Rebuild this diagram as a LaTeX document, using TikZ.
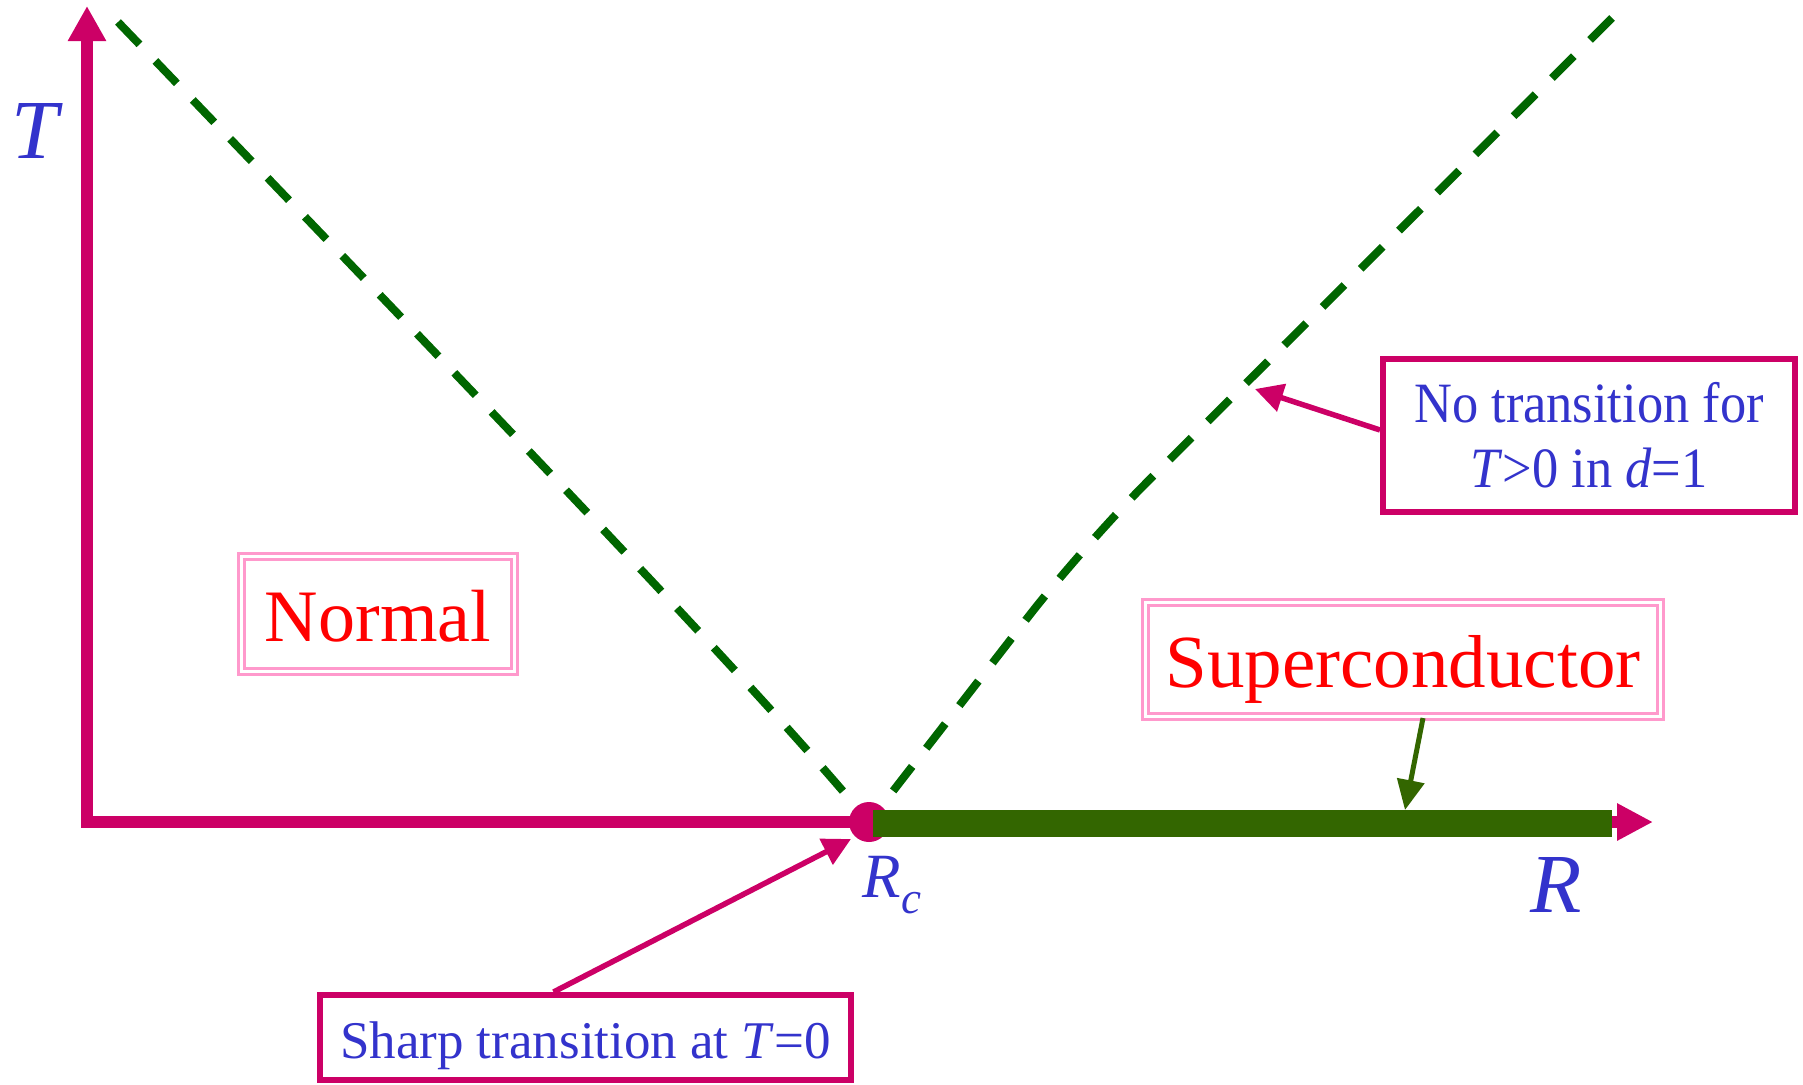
\documentclass[tikz,border=0pt]{standalone}
\usepackage{fontspec}
\setmainfont{Liberation Serif}
\newfontfamily\condserif[FakeStretch=0.92]{Liberation Serif}
\usetikzlibrary{arrows.meta}
\definecolor{mag}{HTML}{CC0066}
\definecolor{txtblue}{HTML}{3333CC}
\definecolor{dashgreen}{HTML}{006600}
\definecolor{bargreen}{HTML}{336600}
\definecolor{softpink}{HTML}{FF99CC}
\definecolor{regred}{HTML}{FF0000}
\begin{document}
\begin{tikzpicture}[x=1pt,y=-1pt,
  phaseline/.style={draw=dashgreen, line width=8pt, dash pattern=on 31pt off 23pt},
  axisline/.style={draw=mag, line width=12pt},
  regionbox/.style={draw=softpink, double=white, double distance=3pt, line width=3pt,
     inner sep=0pt, text=regred},
  notebox/.style={draw=mag, line width=6pt, fill=white, inner sep=0pt, text=txtblue,
     align=center},
  axlabel/.style={text=txtblue, inner sep=0pt, font=\fontsize{84}{84}\selectfont},
  pointer/.style={draw=mag, line width=5.5pt, -{Triangle[length=28pt,width=28pt]}},
]
\useasboundingbox (0,0) rectangle (1803,1084);

% phase boundaries (dashed)
\coordinate (ltop) at (118,22);
\coordinate (rtop) at (1612,18);
\coordinate (rcpt) at (869,822);
\draw[phaseline] (ltop) .. controls (500,420) and (760,690) .. (rcpt);
\draw[phaseline, rounded corners=90pt] (rtop) -- (1084,545) -- (rcpt);

% axes
\coordinate (ytop) at (87,6);
\coordinate (origin) at (87,822);
\coordinate (xend) at (1653,822);
\draw[axisline, {Triangle[length=35pt,width=36pt]}-{Triangle[length=36pt,width=35pt]}]
  (ytop) -- (origin) -- (xend);

% critical point and superconducting segment
\node[circle, fill=mag, minimum size=40pt, inner sep=0pt] (rc) at (869,822) {};
\coordinate (barstart) at (873,823.5);
\coordinate (barend) at (1612,823.5);
\draw[bargreen, line width=27pt] (barstart) -- (barend);

% axis labels
\node[axlabel, anchor=base] (tlab) at (37,158) {\textit{T}};
\node[axlabel, anchor=base] (rlab) at (1556,912) {\textit{R}};
\node[text=txtblue, inner sep=0pt, anchor=base west, font=\fontsize{63}{63}\selectfont]
  (rclab) at (862,897) {\textit{R}\kern1pt\raisebox{-16pt}{\fontsize{45}{45}\selectfont\textit{c}}};

% region labels
\node[regionbox, minimum width=273pt, minimum height=115pt, text height=54pt, text depth=0pt,
  font=\fontsize{74}{74}\selectfont] (normal) at (378,614) {Normal};
\node[regionbox, minimum width=515pt, minimum height=114pt, text height=56pt, text depth=0pt,
  font=\fontsize{75}{75}\selectfont] (super) at (1403,659.5) {Superconductor};

% notes
\node[notebox, minimum width=412pt, minimum height=153pt,
  font=\condserif\fontsize{57}{65}\selectfont] (notrans) at (1589,435.5)
  {No transition for\\\textit{T}>0 in \textit{d}=1};
\node[notebox, minimum width=531pt, minimum height=85pt, text height=41pt, text depth=0pt,
  font=\fontsize{53}{53}\selectfont] (sharp) at (585.5,1037.5)
  {Sharp transition at \textit{T}=0};

% pointers
\coordinate (notranstip) at (1255,389);
\coordinate (sharptip) at (851,839);
\coordinate (supertip) at (1405,810);
\draw[pointer] ([yshift=5.5pt]notrans.west) -- (notranstip);
\draw[pointer] ([xshift=-32pt]sharp.north) -- (sharptip);
\draw[draw=bargreen, line width=5pt, -{Triangle[length=30pt,width=27pt]}]
  ([xshift=20pt]super.south) -- (supertip);
\end{tikzpicture}
\end{document}
